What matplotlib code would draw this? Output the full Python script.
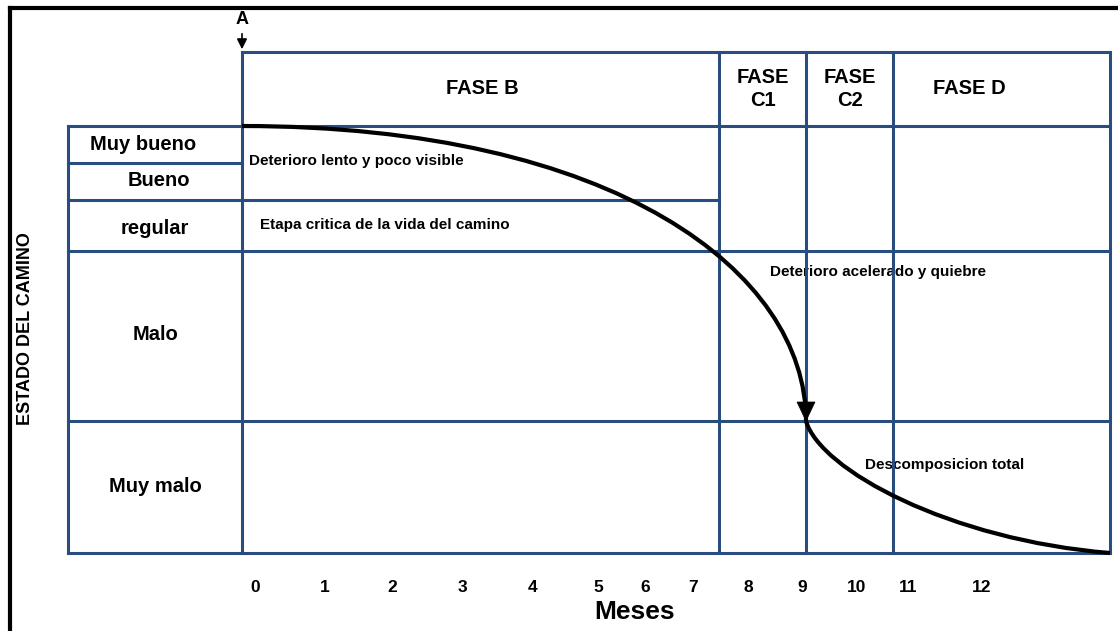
import numpy as np
import matplotlib.pyplot as plt
from matplotlib.path import Path
from matplotlib.patches import PathPatch, Polygon

plt.rcParams['font.family'] = ['Liberation Sans', 'DejaVu Sans']
plt.rcParams['font.weight'] = 'bold'

BLUE = '#2a4d80'

# table borders (picture units, y grows downward)
col_x = [68, 242, 719, 806, 893, 1110]
row_y = [52, 126, 163, 200, 251, 421, 553]

# state rows on the left
estados = ['Muy bueno', 'Bueno', 'regular', 'Malo', 'Muy malo']
estado_x = [143, 159, 155, 155, 155]
estado_y = [144, 181, 228, 335, 486]

# phase headers
fases = ['FASE B', 'FASE\nC1', 'FASE\nC2', 'FASE D']
fase_x = [482, 763, 850, 969]
fase_y = [88, 89, 89, 88]

# notes inside the table
notas = ['Deterioro lento y poco visible', 'Etapa critica de la vida del camino',
         'Deterioro acelerado y quiebre', 'Descomposicion total']
nota_x = [249, 260, 770, 865]
nota_y = [161, 225, 272, 465]

# month axis
meses = ['0', '1', '2', '3', '4', '5', '6', '7', '8', '9', '10', '11', '12']
mes_x = [255, 325, 392, 462, 533, 598, 645, 693, 748, 802, 857, 908, 982]
mes_y = 587

# deterioration curve, two cubic pieces (start, ctrl, ctrl, end)
curva1_x = [242, 615, 806, 806]
curva1_y = [126, 126, 272, 421]
curva2_x = [806, 820, 950, 1110]
curva2_y = [421, 470, 540, 553]


fig = plt.figure(figsize=(11.18, 6.31), dpi=100)
ax = fig.add_axes([0, 0, 1, 1])
ax.set_xlim(0, 1118)
ax.set_ylim(631, 0)
ax.axis('off')

# black frame (only left and top are visible)
ax.plot([9.5, 9.5], [631, 8], color='black', lw=3, solid_capstyle='projecting', zorder=4)
ax.plot([9.5, 1118], [8, 8], color='black', lw=3, solid_capstyle='projecting', zorder=4)

lw = 2.2
x0, xa, xb, xc, xd, x1 = col_x
ytop, yh, y1, y2, y3, y4, ybot = row_y
ax.plot([xa, x1], [ytop, ytop], color=BLUE, lw=lw, zorder=2)
for x in col_x[1:]:
    ax.plot([x, x], [ytop, ybot], color=BLUE, lw=lw, zorder=2)
ax.plot([x0, x0], [yh, ybot], color=BLUE, lw=lw, zorder=2)
for y in [yh, y3, y4, ybot]:
    ax.plot([x0, x1], [y, y], color=BLUE, lw=lw, zorder=2)
ax.plot([x0, xa], [y1, y1], color=BLUE, lw=lw, zorder=2)
ax.plot([x0, xb], [y2, y2], color=BLUE, lw=lw, zorder=2)

# curve
codes = [Path.MOVETO, Path.CURVE4, Path.CURVE4, Path.CURVE4]
for cx, cy in [(curva1_x, curva1_y), (curva2_x, curva2_y)]:
    p = Path(np.column_stack([cx, cy]), codes)
    ax.add_patch(PathPatch(p, facecolor='none', edgecolor='black', lw=3, zorder=3))
ax.add_patch(Polygon([[797, 402], [815, 402], [806, 421]], closed=True,
                     facecolor='black', edgecolor='black', lw=0.5, zorder=3))

# marker A
ax.text(242, 20, 'A', ha='center', va='center', fontsize=13, fontweight='bold')
ax.annotate('', xy=(242, 52), xytext=(242, 31),
            arrowprops=dict(arrowstyle='-|>', color='black', lw=1.2, mutation_scale=15))

for t, x, y in zip(fases, fase_x, fase_y):
    ax.text(x, y, t, ha='center', va='center', fontsize=14.5, fontweight='bold',
            linespacing=1.3, zorder=1)
for t, x, y in zip(estados, estado_x, estado_y):
    ax.text(x, y, t, ha='center', va='center', fontsize=14.5, fontweight='bold', zorder=1)
for t, x, y in zip(notas, nota_x, nota_y):
    ax.text(x, y, t, ha='left', va='center', fontsize=11, fontweight='bold', zorder=1)
for t, x in zip(meses, mes_x):
    ax.text(x, mes_y, t, ha='center', va='center', fontsize=12.5, fontweight='bold')

ax.text(635, 612, 'Meses', ha='center', va='center', fontsize=19, fontweight='bold')
ax.text(26, 329, 'ESTADO DEL CAMINO', ha='center', va='center', rotation=90,
        fontsize=13, fontweight='bold')

fig.savefig('out.png', dpi=100)
